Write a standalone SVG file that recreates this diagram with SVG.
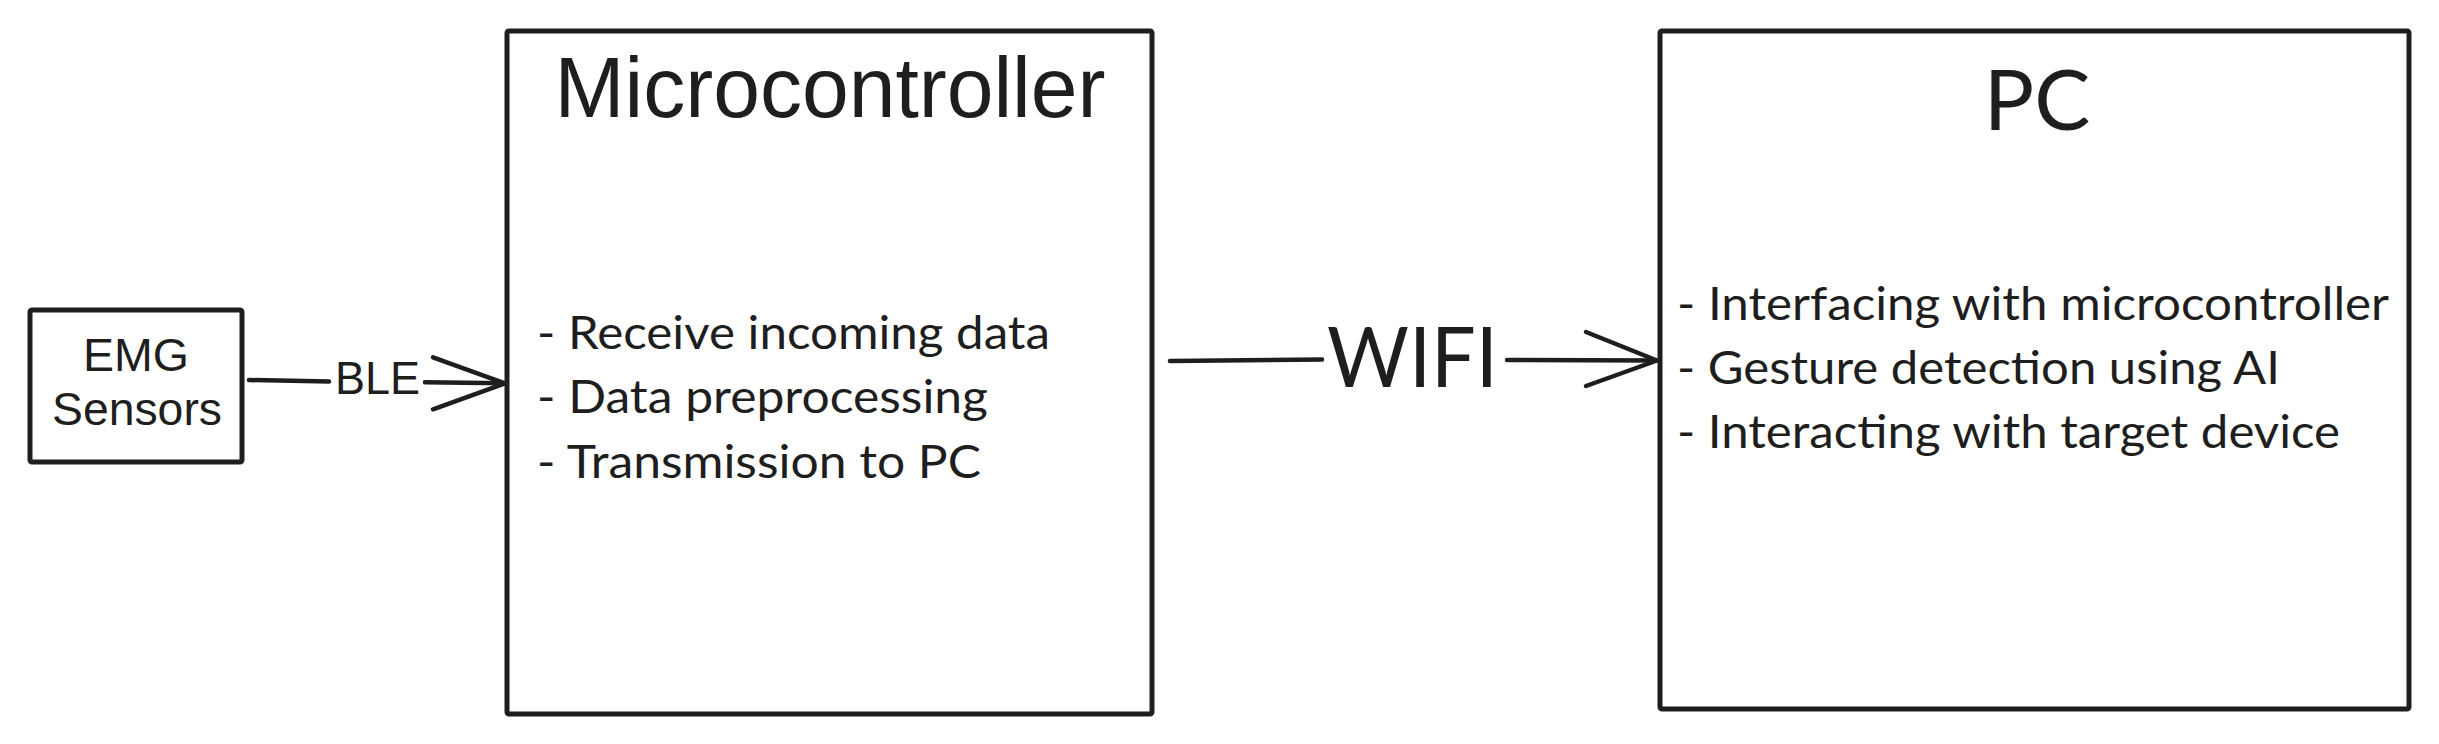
<svg xmlns="http://www.w3.org/2000/svg" width="2439" height="744" viewBox="0 0 2439 744">
<style>
.box{fill:#ffffff;stroke:#1e1e1e;stroke-width:5;stroke-linejoin:round}
.ln{fill:none;stroke:#1e1e1e;stroke-width:4.5;stroke-linecap:round;stroke-linejoin:round}
.ar{fill:#1e1e1e}
.nu{font-family:Lato,"Noto Sans",sans-serif;fill:#1e1e1e}
</style>
<rect width="2439" height="744" fill="#ffffff"/>
<g id="emg">
<rect class="box" x="30" y="310" width="212" height="152" rx="2"/>
<text class="ar" font-family="Liberation Sans, Arial, sans-serif" font-size="47" text-anchor="middle" x="136" y="371" textLength="106" lengthAdjust="spacingAndGlyphs">EMG</text>
<text class="ar" font-family="Liberation Sans, Arial, sans-serif" font-size="47" text-anchor="middle" x="137" y="425" textLength="170" lengthAdjust="spacingAndGlyphs">Sensors</text>
</g>
<g id="microcontroller">
<rect class="box" x="507" y="31" width="645" height="683" rx="2"/>
<text class="ar" font-family="Liberation Sans, Arial, sans-serif" font-size="86" text-anchor="middle" x="830" y="117" textLength="551" lengthAdjust="spacingAndGlyphs">Microcontroller</text>
<text class="nu" font-size="46" x="537" y="349" textLength="513" lengthAdjust="spacingAndGlyphs">- Receive incoming data</text>
<text class="nu" font-size="46" x="537" y="413" textLength="451" lengthAdjust="spacingAndGlyphs">- Data preprocessing</text>
<text class="nu" font-size="46" x="537" y="478" textLength="444" lengthAdjust="spacingAndGlyphs">- Transmission to PC</text>
</g>
<g id="pc">
<rect class="box" x="1660" y="31" width="749" height="678" rx="2"/>
<text class="nu" font-size="84" text-anchor="middle" x="2037" y="130">PC</text>
<text class="nu" font-size="46" x="1677" y="320" textLength="712" lengthAdjust="spacingAndGlyphs">- Interfacing with microcontroller</text>
<text class="nu" font-size="46" x="1677" y="384" textLength="603" lengthAdjust="spacingAndGlyphs">- Gesture detection using AI</text>
<text class="nu" font-size="46" x="1677" y="448" textLength="663" lengthAdjust="spacingAndGlyphs">- Interacting with target device</text>
</g>
<g id="connectors">
<g id="ble">
<path class="ln" d="M249 380 L329 381.5"/>
<text class="ar" font-family="Liberation Sans, Arial, sans-serif" font-size="46" x="335" y="394" textLength="85" lengthAdjust="spacingAndGlyphs">BLE</text>
<path class="ln" d="M425 382.3 L505 383.3"/>
<path class="ln" d="M433 357.3 L505 383.3 L433 409.3"/>
</g>
<g id="wifi">
<path class="ln" d="M1170 361 L1322 359.5"/>
<text class="nu" font-size="83" x="1327" y="387" textLength="171" lengthAdjust="spacingAndGlyphs">WIFI</text>
<path class="ln" d="M1507 360 L1656 360.5"/>
<path class="ln" d="M1586 332 L1657 360.5 L1586 386"/>
</g>
</g>
</svg>
